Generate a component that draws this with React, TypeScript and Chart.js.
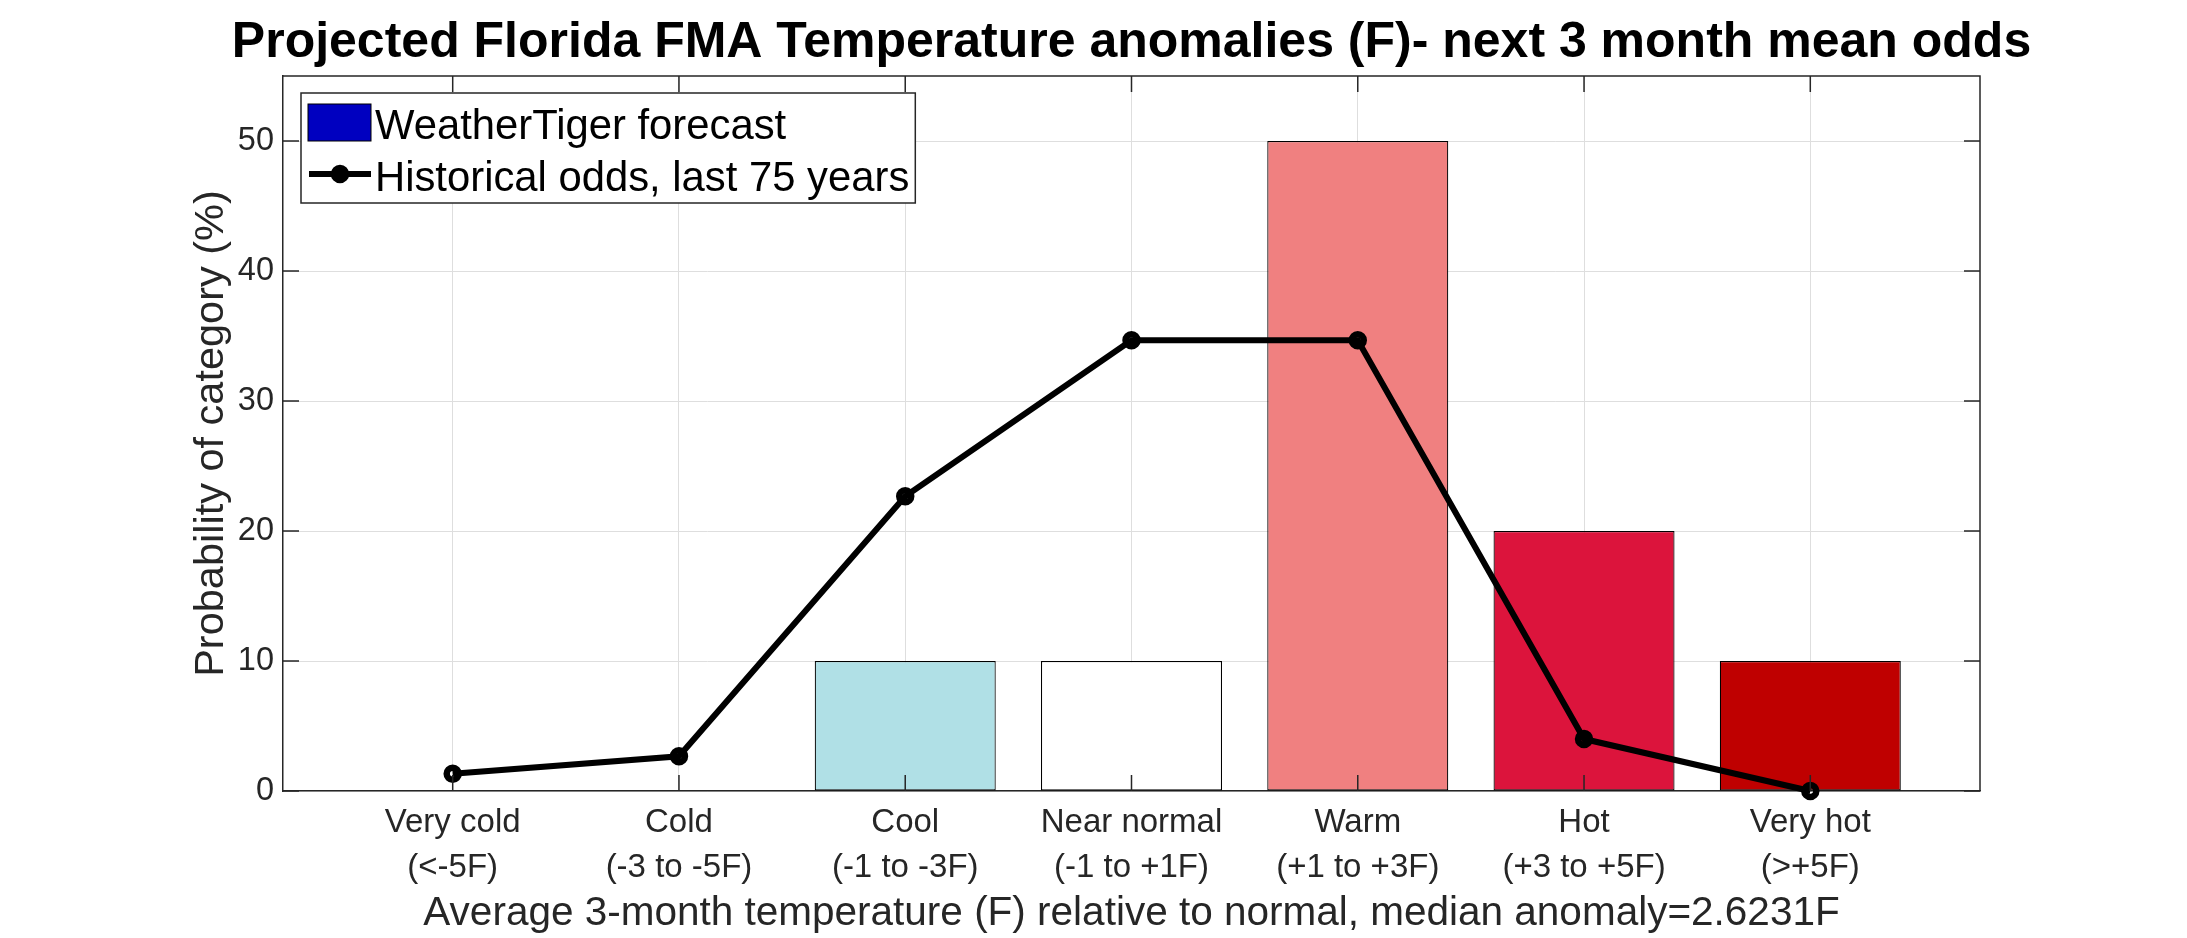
import React, { useEffect, useRef } from "react";
import { Chart, registerables } from "chart.js";

Chart.register(...registerables);

// ---------------- data ----------------
const CATEGORIES = ["Very cold", "Cold", "Cool", "Near normal", "Warm", "Hot", "Very hot"];
const RANGES = ["(<-5F)", "(-3 to -5F)", "(-1 to -3F)", "(-1 to +1F)", "(+1 to +3F)", "(+3 to +5F)", "(>+5F)"];
const FORECAST = [0, 0, 10, 10, 50, 20, 10];
const HISTORICAL = [1.33, 2.67, 22.67, 34.67, 34.67, 4.0, 0];
const BAR_COLORS = ["#FFFFFF", "#FFFFFF", "#B0E0E6", "#FFFFFF", "#F08080", "#DC143C", "#BF0000"];
const Y_TICKS = [0, 10, 20, 30, 40, 50];
const FORECAST_LABEL = "WeatherTiger forecast";
const HISTORICAL_LABEL = "Historical odds, last 75 years";
const LEGEND_SWATCH = "#0000C0";
const TITLE = "Projected Florida FMA Temperature anomalies (F)- next 3 month mean odds";
const X_TITLE = "Average 3-month temperature (F) relative to normal, median anomaly=2.6231F";
const Y_TITLE = "Probability of category (%)";

const FONT = '"Liberation Sans", Arial, Helvetica, sans-serif';
const AXIS_COLOR = "#262626";
const GRID_COLOR = "#dedede";
const W = 2187;
const H = 938;

const framePlugin = {
  id: "frameTicks",
  afterDatasetsDraw(chart: any) {
    const { ctx, chartArea: a, scales } = chart;
    const xs = scales.x;
    const ys = scales.y;
    const L = 16;
    ctx.save();
    ctx.strokeStyle = AXIS_COLOR;
    ctx.lineWidth = 1.5;
    ctx.beginPath();
    ctx.moveTo(a.left, a.top);
    ctx.lineTo(a.right, a.top);
    ctx.lineTo(a.right, a.bottom);
    xs.ticks.forEach((t: any) => {
      const px = xs.getPixelForValue(t.value);
      ctx.moveTo(px, a.bottom);
      ctx.lineTo(px, a.bottom - L);
      ctx.moveTo(px, a.top);
      ctx.lineTo(px, a.top + L);
    });
    ys.ticks.forEach((t: any) => {
      const py = ys.getPixelForValue(t.value);
      ctx.moveTo(a.left, py);
      ctx.lineTo(a.left + L, py);
      ctx.moveTo(a.right, py);
      ctx.lineTo(a.right - L, py);
    });
    ctx.stroke();
    ctx.restore();
  },
};

const legendPlugin = {
  id: "insideLegend",
  afterDraw(chart: any) {
    const { ctx, chartArea: a } = chart;
    const barDs = chart.data.datasets[1];
    const lineDs = chart.data.datasets[0];
    ctx.save();
    ctx.font = `41.8px ${FONT}`;
    const tw = Math.max(ctx.measureText(barDs.label).width, ctx.measureText(lineDs.label).width);
    const bx = a.left + 18;
    const by = a.top + 17;
    const bw = 74 + tw + 6;
    const bh = 110;
    ctx.fillStyle = "#FFFFFF";
    ctx.fillRect(bx, by, bw, bh);
    ctx.strokeStyle = AXIS_COLOR;
    ctx.lineWidth = 1.5;
    ctx.strokeRect(bx, by, bw, bh);
    // swatch
    ctx.fillStyle = LEGEND_SWATCH;
    ctx.fillRect(bx + 7, by + 11, 63, 37);
    ctx.lineWidth = 1;
    ctx.strokeStyle = "#000";
    ctx.strokeRect(bx + 7, by + 11, 63, 37);
    // line sample
    ctx.strokeStyle = "#000";
    ctx.lineWidth = 6;
    ctx.beginPath();
    ctx.moveTo(bx + 8, by + 81);
    ctx.lineTo(bx + 70, by + 81);
    ctx.stroke();
    ctx.lineWidth = 6.5;
    ctx.beginPath();
    ctx.arc(bx + 39, by + 81, 6, 0, Math.PI * 2);
    ctx.stroke();
    // text
    ctx.fillStyle = "#000";
    ctx.textBaseline = "alphabetic";
    ctx.textAlign = "left";
    ctx.fillText(barDs.label, bx + 74, by + 46);
    ctx.fillText(lineDs.label, bx + 74, by + 98);
    ctx.restore();
  },
};

export default function App() {
  const canvasRef = useRef<HTMLCanvasElement | null>(null);

  useEffect(() => {
    document.body.style.margin = "0";
    const canvas = canvasRef.current;
    if (!canvas) return;
    Chart.defaults.font.family = FONT;

    const chart = new Chart(canvas, {
      type: "bar",
      data: {
        datasets: [
          {
            type: "line",
            label: HISTORICAL_LABEL,
            data: HISTORICAL.map((v, i) => ({ x: i, y: v })),
            borderColor: "#000000",
            borderWidth: 6,
            pointRadius: 6,
            pointBorderWidth: 6.5,
            pointBackgroundColor: "rgba(0,0,0,0)",
            pointBorderColor: "#000000",
            tension: 0,
            clip: false,
            order: 0,
          } as any,
          {
            type: "bar",
            label: FORECAST_LABEL,
            data: FORECAST.map((v, i) => ({ x: i, y: v })),
            backgroundColor: BAR_COLORS,
            borderColor: "#000000",
            borderWidth: 1.2,
            borderSkipped: false,
            barPercentage: 0.8,
            categoryPercentage: 1,
            order: 1,
          } as any,
        ],
      },
      options: {
        animation: false,
        responsive: false,
        devicePixelRatio: 1,
        layout: { padding: { left: 76, right: 0, top: 0, bottom: 0 } },
        plugins: {
          legend: { display: false },
          tooltip: { enabled: false },
          title: {
            display: true,
            text: TITLE,
            color: "#000000",
            font: { size: 50, weight: "bold", family: FONT, lineHeight: 1.2 },
            padding: { top: 13, bottom: 3 },
          },
        },
        scales: {
          x: {
            type: "linear",
            min: -0.75,
            max: 6.75,
            bounds: "data",
            offset: false,
            afterBuildTicks: (s: any) => {
              s.ticks = CATEGORIES.map((_, i) => ({ value: i }));
            },
            afterFit: (s: any) => {
              s.height = 147;
            },
            grid: { display: true, color: GRID_COLOR, lineWidth: 1, drawTicks: false, offset: false },
            border: { display: true, color: AXIS_COLOR, width: 1.5 },
            ticks: {
              padding: 9,
              color: AXIS_COLOR,
              maxRotation: 0,
              autoSkip: false,
              font: { size: 33, family: FONT, lineHeight: 1.38 },
              callback: (v: any) => {
                const i = Math.round(Number(v));
                return [CATEGORIES[i], RANGES[i]];
              },
            },
            title: {
              display: true,
              text: X_TITLE,
              color: AXIS_COLOR,
              font: { size: 40.5, family: FONT, lineHeight: 1.2 },
              padding: { top: 0, bottom: 0 },
            },
          },
          y: {
            type: "linear",
            position: "left",
            min: 0,
            max: 55,
            bounds: "data",
            afterBuildTicks: (s: any) => {
              s.ticks = Y_TICKS.map((v) => ({ value: v }));
            },
            afterFit: (s: any) => {
              s.width = 207;
            },
            grid: { display: true, color: GRID_COLOR, lineWidth: 1, drawTicks: false },
            border: { display: true, color: AXIS_COLOR, width: 1.5 },
            ticks: {
              padding: 9,
              color: AXIS_COLOR,
              font: { size: 32.5, family: FONT },
              callback: (v: any) => String(v),
            },
            title: {
              display: true,
              text: Y_TITLE,
              color: AXIS_COLOR,
              font: { size: 41.5, family: FONT, lineHeight: 1.2 },
              padding: { top: 111, bottom: 0 },
            },
          },
          yRight: {
            type: "linear",
            position: "right",
            min: 0,
            max: 55,
            display: true,
            afterFit: (s: any) => {
              s.width = 207;
            },
            grid: { display: false, drawTicks: false },
            border: { display: false },
            ticks: { display: false },
          },
        },
      } as any,
      plugins: [framePlugin, legendPlugin],
    });

    return () => {
      chart.destroy();
    };
  }, []);

  return (
    <div style={{ width: `${W}px`, height: `${H}px`, position: "relative", background: "#ffffff" }}>
      <canvas ref={canvasRef} width={W} height={H} style={{ display: "block", width: `${W}px`, height: `${H}px` }} />
    </div>
  );
}
